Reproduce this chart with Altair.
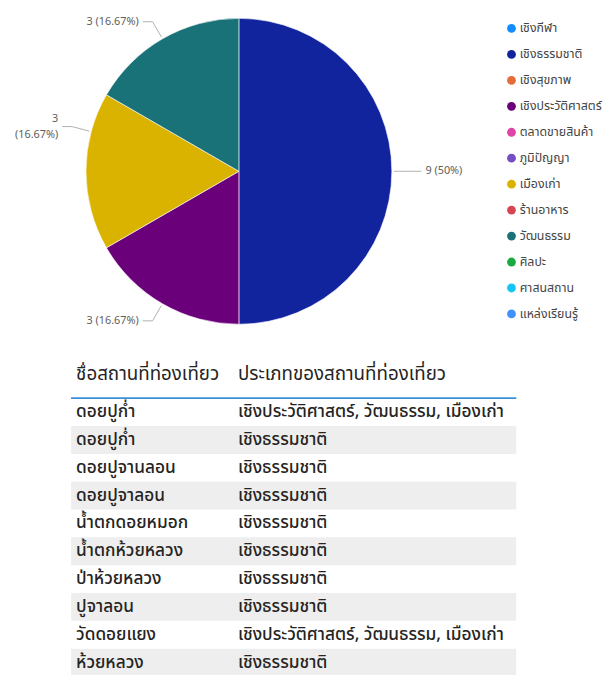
import altair as alt
import pandas as pd

# ---- data ----
categories = ["เชิงกีฬา", "เชิงธรรมชาติ", "เชิงสุขภาพ", "เชิงประวัติศาสตร์", "ตลาดขายสินค้า",
              "ภูมิปัญญา", "เมืองเก่า", "ร้านอาหาร", "วัฒนธรรม", "ศิลปะ", "ศาสนสถาน", "แหล่งเรียนรู้"]
counts = [0, 9, 0, 3, 0, 0, 3, 0, 3, 0, 0, 0]
colors = ["#118DFF", "#12239E", "#E66C37", "#6B007B", "#E044A7", "#744EC2",
          "#D9B300", "#D64550", "#197278", "#1AAB40", "#15C6F4", "#4092FF"]

headers = ["ชื่อสถานที่ท่องเที่ยว", "ประเภทของสถานที่ท่องเที่ยว"]
places = ["ดอยปูก่ำ", "ดอยปูก่ำ", "ดอยปูจานลอน", "ดอยปูจาลอน", "น้ำตกดอยหมอก",
          "น้ำตกห้วยหลวง", "ป่าห้วยหลวง", "ปูจาลอน", "วัดดอยแยง", "ห้วยหลวง"]
types = ["เชิงประวัติศาสตร์, วัฒนธรรม, เมืองเก่า", "เชิงธรรมชาติ", "เชิงธรรมชาติ", "เชิงธรรมชาติ",
         "เชิงธรรมชาติ", "เชิงธรรมชาติ", "เชิงธรรมชาติ", "เชิงธรรมชาติ",
         "เชิงประวัติศาสตร์, วัฒนธรรม, เมืองเก่า", "เชิงธรรมชาติ"]

FONT = "Noto Sans Thai, Tahoma, Noto Sans, sans-serif"
CX, CY, R = 234, 161, 155

pie_df = pd.DataFrame({"cat": categories, "n": counts, "idx": list(range(len(categories)))})
tbl = pd.DataFrame({"row": list(range(len(places))), "place": places, "type": types})
hdr = pd.DataFrame({"col": ["place", "type"], "val": headers})

base = alt.Chart(pie_df)

pie = base.transform_filter("datum.n > 0").mark_arc(radius=R, stroke="white", strokeWidth=0.6).encode(
    theta=alt.Theta("n:Q", stack=True),
    color=alt.Color("cat:N", scale=alt.Scale(domain=categories, range=colors),
                    legend=alt.Legend(title=None, orient="none", legendX=504, legendY=10,
                                      symbolType="circle", symbolSize=80, symbolStrokeWidth=0,
                                      labelFontSize=12.5, labelColor="#444444", labelFont=FONT,
                                      rowPadding=13.3, labelOffset=2, labelLimit=300, padding=0)),
    order=alt.Order("idx:Q"),
    x=alt.value(CX), y=alt.value(CY),
)

geo = (base
       .transform_window(cum="sum(n)", sort=[alt.SortField("idx")], frame=[None, 0])
       .transform_joinaggregate(total="sum(n)")
       .transform_filter("datum.n > 0")
       .transform_calculate(mid="2*PI*(datum.cum - datum.n/2)/datum.total")
       .transform_calculate(wrap="sin(datum.mid) < -0.99")
       .transform_calculate(ang="datum.wrap ? datum.mid + PI/12 : datum.mid")
       .transform_calculate(
           s="sin(datum.ang) < 0 ? -1 : 1",
           x1=f"{CX} + {R + 2}*sin(datum.ang)", y1=f"{CY} - {R + 2}*cos(datum.ang)",
           x2=f"{CX} + {R + 20}*sin(datum.ang)", y2=f"{CY} - {R + 20}*cos(datum.ang)")
       .transform_calculate(x3="datum.x2 + 10*datum.s", tx="datum.x2 + 14*datum.s",
                            pct="format(datum.n/datum.total, '.2~%')")
       .transform_calculate(label="datum.wrap ? datum.n + '\\n(' + datum.pct + ')' : datum.n + ' (' + datum.pct + ')'"))

lead1 = geo.mark_rule(color="#B3B0AD", strokeWidth=1).encode(
    x=alt.X("x1:Q", scale=None), y=alt.Y("y1:Q", scale=None),
    x2="x2:Q", y2="y2:Q")
lead2 = geo.mark_rule(color="#B3B0AD", strokeWidth=1).encode(
    x=alt.X("x2:Q", scale=None), y=alt.Y("y2:Q", scale=None),
    x2="x3:Q", y2="y2:Q")
lab_r = geo.transform_filter("datum.s < 0 && !datum.wrap").mark_text(
    align="right", baseline="middle", fontSize=11, color="#605E5C", font=FONT).encode(
    x=alt.X("tx:Q", scale=None), y=alt.Y("y2:Q", scale=None), text="label:N")
lab_w = geo.transform_filter("datum.wrap").mark_text(
    align="right", baseline="middle", fontSize=11, color="#605E5C", font=FONT,
    lineBreak="\n", lineHeight=17, dy=-8).encode(
    x=alt.X("tx:Q", scale=None), y=alt.Y("y2:Q", scale=None), text="label:N")
lab_l = geo.transform_filter("datum.s > 0").mark_text(
    align="left", baseline="middle", fontSize=11, color="#605E5C", font=FONT).encode(
    x=alt.X("tx:Q", scale=None), y=alt.Y("y2:Q", scale=None), text="label:N")

row_scale = alt.Scale(type="band", domain=list(range(len(places))), range=[391, 391 + 28.2 * len(places)],
                      paddingInner=0, paddingOuter=0)
col_scale = alt.Scale(type="point", domain=["place", "type"], range=[69, 233], padding=0)

bands = alt.Chart(tbl).transform_filter("datum.row % 2 == 1").mark_rect(color="#EEEEEE").encode(
    y=alt.Y("row:O", scale=row_scale, axis=None),
    x=alt.value(64), x2=alt.value(515))

cells = alt.Chart(tbl).transform_fold(["place", "type"], as_=["col", "val"]).mark_text(
    align="left", baseline="middle", fontSize=17.5, color="#252423", font=FONT, fontWeight=500).encode(
    x=alt.X("col:N", scale=col_scale, axis=None),
    y=alt.Y("row:O", scale=row_scale, axis=None),
    text="val:N")

header = alt.Chart(hdr).mark_text(align="left", baseline="middle", fontSize=19, color="#252423",
                                  font=FONT).encode(
    x=alt.X("col:N", scale=col_scale, axis=None),
    y=alt.value(367),
    text="val:N")

hline = alt.Chart(hdr).mark_rule(color="#3C8FDB", strokeWidth=1.5).encode(
    x=alt.value(64), x2=alt.value(515), y=alt.value(391))

chart = alt.layer(bands, hline, header, cells, pie, lead1, lead2, lab_r, lab_w, lab_l).resolve_scale(
    x="independent", y="independent"
).properties(
    width=604, height=667,
    autosize=alt.AutoSizeParams(type="none"),
    padding=0,
    background="white",
).configure_view(stroke=None)

chart.save("out.html", embed_options={"renderer": "svg", "actions": False})
